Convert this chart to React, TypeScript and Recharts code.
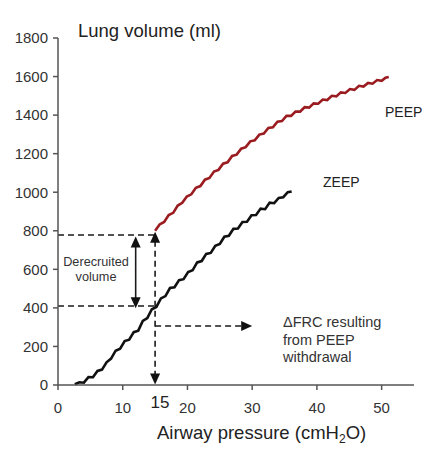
import React from "react";
import { LineChart, Line, XAxis, YAxis, ReferenceLine } from "recharts";

// ZEEP curve: [airway pressure cmH2O, lung volume ml]
const zeepPoints: [number, number][] = [
  [2.6, 4], [3.3, 14], [4.0, 12], [4.7, 41], [5.4, 40], [6.1, 73], [6.8, 80], [7.5, 118],
  [8.2, 137], [8.9, 178], [9.6, 188], [10.3, 228], [11.0, 235], [11.7, 274], [12.4, 282],
  [13.1, 332], [13.8, 347], [14.5, 393], [15.2, 405], [15.9, 449], [16.6, 461], [17.3, 503],
  [18.0, 507], [18.7, 544], [19.4, 549], [20.1, 586], [20.8, 595], [21.5, 636], [22.2, 643],
  [22.9, 680], [23.6, 685], [24.3, 722], [25.0, 732], [25.7, 769], [26.4, 774], [27.1, 810],
  [27.8, 812], [28.5, 846], [29.2, 847], [29.9, 881], [30.6, 882], [31.3, 915], [32.0, 912],
  [32.7, 946], [33.4, 943], [34.1, 970], [34.8, 974], [35.5, 1000], [36.1, 1004],
];

// PEEP curve
const peepPoints: [number, number][] = [
  [15.0, 800], [15.7, 833], [16.4, 846], [17.1, 882], [17.8, 893], [18.5, 931], [19.2, 945],
  [19.9, 978], [20.6, 989], [21.3, 1023], [22.0, 1032], [22.7, 1065], [23.4, 1074], [24.1, 1107],
  [24.8, 1116], [25.5, 1148], [26.2, 1155], [26.9, 1188], [27.6, 1195], [28.3, 1226], [29.0, 1234],
  [29.7, 1264], [30.4, 1269], [31.1, 1299], [31.8, 1304], [32.5, 1333], [33.2, 1337], [33.9, 1366],
  [34.6, 1369], [35.3, 1396], [36.0, 1396], [36.7, 1419], [37.4, 1418], [38.1, 1441], [38.8, 1439],
  [39.5, 1461], [40.2, 1459], [40.9, 1481], [41.6, 1478], [42.3, 1500], [43.0, 1497], [43.7, 1518],
  [44.4, 1515], [45.1, 1535], [45.8, 1531], [46.5, 1552], [47.2, 1548], [47.9, 1567], [48.6, 1563],
  [49.3, 1582], [50.0, 1578], [50.6, 1594], [51.1, 1598],
];

const xTicks = [0, 10, 20, 30, 40, 50];
const yTicks = [0, 200, 400, 600, 800, 1000, 1200, 1400, 1600, 1800];

// annotation values
const peepPressure = 15;
const peepVolume = 778;
const zeepVolumeAtPeep = 410;
const deltaFrcVolume = 306;
const deltaFrcEnd = 30;
const derecruitX = 12;

const zeepData = zeepPoints.map(([x, v]) => ({ x, v }));
const peepData = peepPoints.map(([x, v]) => ({ x, v }));

const FONT = "'Liberation Sans', Arial, Helvetica, sans-serif";

function arrowShape(opts: { start?: boolean; end?: boolean; dashed?: boolean }) {
  return (p: any) => {
    const { x1, y1, x2, y2 } = p;
    const dx = x2 - x1;
    const dy = y2 - y1;
    const len = Math.sqrt(dx * dx + dy * dy) || 1;
    const ux = dx / len;
    const uy = dy / len;
    const L = 11;
    const W = 5;
    const head = (tx: number, ty: number, dirx: number, diry: number) => {
      const bx = tx - dirx * L;
      const by = ty - diry * L;
      const px = -diry * W;
      const py = dirx * W;
      return `${tx},${ty} ${bx + px},${by + py} ${bx - px},${by - py}`;
    };
    const sx = x1 + (opts.start ? ux * (L - 2) : 0);
    const sy = y1 + (opts.start ? uy * (L - 2) : 0);
    const ex = x2 - (opts.end ? ux * (L - 2) : 0);
    const ey = y2 - (opts.end ? uy * (L - 2) : 0);
    return (
      <g>
        <line
          x1={sx}
          y1={sy}
          x2={ex}
          y2={ey}
          stroke="#1a1a1a"
          strokeWidth={1.6}
          strokeDasharray={opts.dashed ? "6 4" : undefined}
        />
        {opts.start && <polygon points={head(x1, y1, -ux, -uy)} fill="#111" />}
        {opts.end && <polygon points={head(x2, y2, ux, uy)} fill="#111" />}
      </g>
    );
  };
}

export default function App() {
  return (
    <div
      style={{
        position: "absolute",
        left: 0,
        top: 0,
        width: 427,
        height: 451,
        background: "#fff",
        fontFamily: FONT,
      }}
    >
      <LineChart
        width={427}
        height={451}
        margin={{ top: 38, right: 13, bottom: 36, left: 8 }}
      >
        <XAxis
          dataKey="x"
          type="number"
          domain={[0, 55]}
          ticks={xTicks}
          allowDataOverflow
          height={30}
          tickSize={5}
          tickMargin={12}
          axisLine={{ stroke: "#555", strokeWidth: 1.5 }}
          tickLine={{ stroke: "#555", strokeWidth: 1.5 }}
          tick={{ fill: "#333", fontSize: 15, fontFamily: FONT }}
        />
        <YAxis
          dataKey="v"
          type="number"
          domain={[0, 1800]}
          ticks={yTicks}
          width={50}
          tickSize={5}
          tickMargin={5}
          axisLine={{ stroke: "#555", strokeWidth: 1.5 }}
          tickLine={{ stroke: "#555", strokeWidth: 1.5 }}
          tick={{ fill: "#333", fontSize: 15, fontFamily: FONT }}
        />
        <ReferenceLine
          segment={[{ x: 0, y: peepVolume }, { x: peepPressure, y: peepVolume }]}
          stroke="#1a1a1a"
          strokeWidth={1.6}
          strokeDasharray="6 4"
        />
        <ReferenceLine
          segment={[{ x: 0, y: zeepVolumeAtPeep }, { x: peepPressure, y: zeepVolumeAtPeep }]}
          stroke="#1a1a1a"
          strokeWidth={1.6}
          strokeDasharray="6 4"
        />
        <ReferenceLine
          segment={[{ x: peepPressure, y: 795 }, { x: peepPressure, y: 3 }]}
          shape={arrowShape({ start: true, end: true, dashed: true })}
        />
        <ReferenceLine
          segment={[{ x: derecruitX, y: 770 }, { x: derecruitX, y: 398 }]}
          shape={arrowShape({ start: true, end: true })}
        />
        <ReferenceLine
          segment={[{ x: peepPressure, y: deltaFrcVolume }, { x: deltaFrcEnd, y: deltaFrcVolume }]}
          shape={arrowShape({ end: true, dashed: true })}
        />
        <Line
          data={zeepData}
          dataKey="v"
          type="linear"
          stroke="#111"
          strokeWidth={2.6}
          dot={false}
          isAnimationActive={false}
        />
        <Line
          data={peepData}
          dataKey="v"
          type="linear"
          stroke="#9b1c20"
          strokeWidth={2.6}
          dot={false}
          isAnimationActive={false}
        />
      </LineChart>
      <svg
        width={427}
        height={451}
        style={{ position: "absolute", left: 0, top: 0, pointerEvents: "none" }}
        fontFamily={FONT}
      >
        <text x={78} y={37} fontSize={18.5} fill="#222">Lung volume (ml)</text>
        <text x={157} y={439} fontSize={18.5} fill="#222">
          Airway pressure (cmH<tspan fontSize={12} dy={4}>2</tspan>
          <tspan dy={-4}>O)</tspan>
        </text>
        <text x={160} y={408} fontSize={17} fill="#222" textAnchor="middle">15</text>
        <text x={385} y={117} fontSize={14} fill="#222">PEEP</text>
        <text x={323} y={187} fontSize={14} fill="#222">ZEEP</text>
        <text x={96} y={265.5} fontSize={12.7} fill="#333" textAnchor="middle">Derecruited</text>
        <text x={96} y={280.5} fontSize={12.7} fill="#333" textAnchor="middle">volume</text>
        <text x={283} y={327} fontSize={14.5} fill="#333">ΔFRC resulting</text>
        <text x={283} y={344.5} fontSize={14.5} fill="#333">from PEEP</text>
        <text x={283} y={361.5} fontSize={14.5} fill="#333">withdrawal</text>
      </svg>
    </div>
  );
}
